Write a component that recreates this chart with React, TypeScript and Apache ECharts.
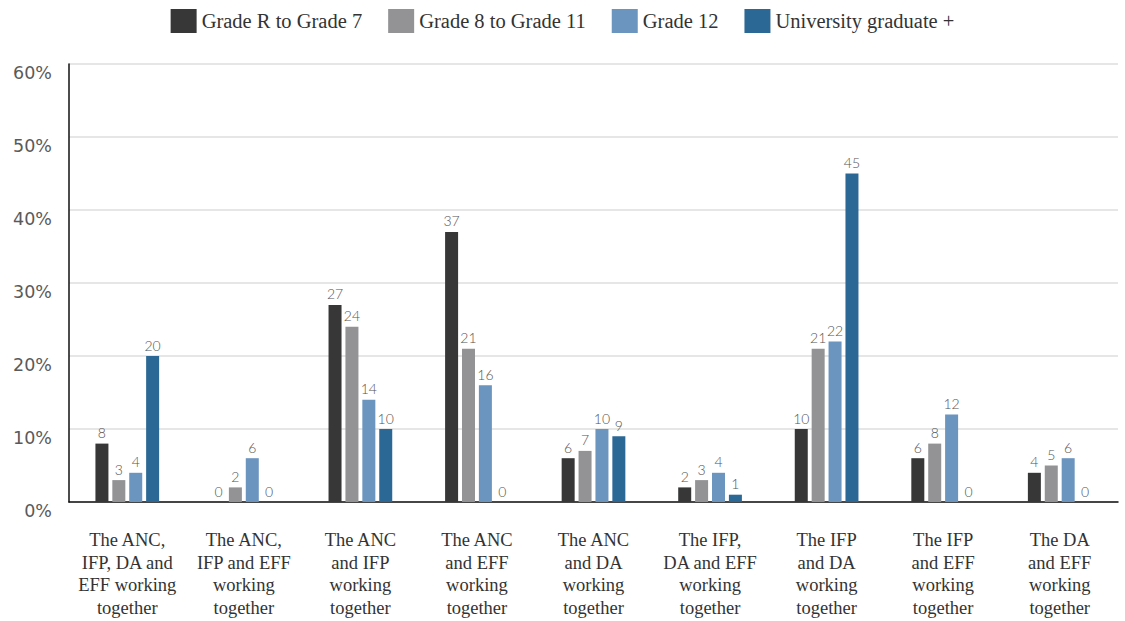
import React, { useEffect, useRef } from "react";
import * as echarts from "echarts";

const categories = [
  "The ANC,\nIFP, DA and\nEFF working\ntogether",
  "The ANC,\nIFP and EFF\nworking\ntogether",
  "The ANC\nand IFP\nworking\ntogether",
  "The ANC\nand EFF\nworking\ntogether",
  "The ANC\nand DA\nworking\ntogether",
  "The IFP,\nDA and EFF\nworking\ntogether",
  "The IFP\nand DA\nworking\ntogether",
  "The IFP\nand EFF\nworking\ntogether",
  "The DA\nand EFF\nworking\ntogether",
];
const seriesNames = ["Grade R to Grade 7", "Grade 8 to Grade 11", "Grade 12", "University graduate +"];
const gradeR7 = [8, 0, 27, 37, 6, 2, 10, 6, 4];
const grade811 = [3, 2, 24, 21, 7, 3, 21, 8, 5];
const grade12 = [4, 6, 14, 16, 10, 4, 22, 12, 6];
const university = [20, 0, 10, 0, 9, 1, 45, 0, 0];
const colors = ["#373737", "#939396", "#6b94bf", "#2c6895"];

export default function App() {
  const ref = useRef<HTMLDivElement>(null);
  useEffect(() => {
    document.body.style.margin = "0";
    const chart = echarts.init(ref.current!, null, { renderer: "svg" });
    const values = [gradeR7, grade811, grade12, university];
    chart.setOption({
      animation: false,
      backgroundColor: "#ffffff",
      legend: {
        top: 4,
        left: "center",
        itemWidth: 26,
        itemHeight: 24,
        itemGap: 26,
        icon: "rect",
        textStyle: { fontFamily: "Liberation Serif", fontSize: 20.5, color: "#333" },
        data: seriesNames,
      },
      grid: { left: 69, right: 7, top: 64, bottom: 119 },
      xAxis: {
        type: "category",
        data: categories,
        axisLine: { lineStyle: { color: "#111", width: 1.5 } },
        axisTick: { inside: true, length: 16, lineStyle: { color: "#111", width: 1.5 } },
        axisLabel: {
          interval: 0,
          margin: 27,
          fontFamily: "Liberation Serif",
          fontSize: 18.5,
          lineHeight: 22.5,
          color: "#333",
        },
      },
      yAxis: {
        type: "value",
        min: 0,
        max: 60,
        interval: 10,
        axisLine: { show: true, lineStyle: { color: "#111", width: 1.5 } },
        axisTick: { show: false },
        splitLine: { lineStyle: { color: "#e6e6e6", width: 2 } },
        axisLabel: {
          formatter: "{value}%",
          margin: 17,
          verticalAlign: "top",
          fontFamily: "DejaVu Sans",
          fontSize: 17.5,
          color: "#5a5a5a",
        },
      },
      series: seriesNames.map((name, i) => ({
        name,
        type: "bar",
        data: values[i],
        barWidth: 13,
        barGap: "30%",
        itemStyle: { color: colors[i] },
        label: {
          show: true,
          position: "top",
          distance: 4,
          fontFamily: "Lato",
          fontWeight: 300,
          fontSize: 14,
          color: "#555",
        },
      })),
    });
    return () => chart.dispose();
  }, []);
  return <div ref={ref} style={{ width: 1125, height: 621 }} />;
}
